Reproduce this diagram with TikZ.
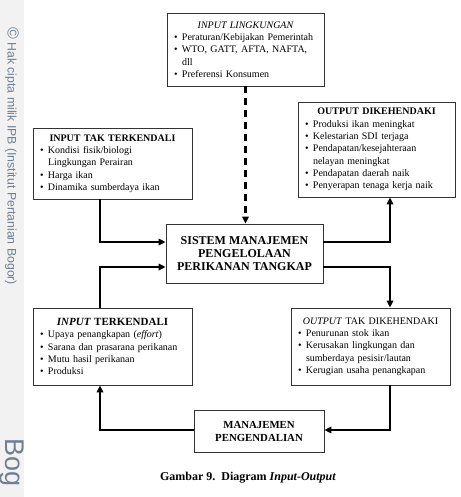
\documentclass[tikz,border=0pt]{standalone}
\usepackage{fontspec}
\setmainfont{Liberation Serif}
\newfontfamily\wmfont{Liberation Sans}
\usetikzlibrary{arrows.meta}
\newcommand\bitem[1]{\par\hangindent=8pt\hangafter=1\noindent\hbox to 8pt{\textbullet\hfil}#1}
\definecolor{wmcol}{RGB}{112,128,146}
\hyphenpenalty=10000
\begin{document}
\begin{tikzpicture}[x=1pt,y=-1pt,
  box/.style={draw=black!80, line width=0.8pt, inner xsep=7pt, inner ysep=0pt, align=left,
    font=\fontsize{10}{12.3}\selectfont},
  cbox/.style={draw=black!80, line width=0.8pt, inner sep=0pt, align=center},
  conn/.style={line width=2.2pt, -{Triangle[length=7pt,width=6.5pt]}},
  dconn/.style={line width=2.2pt, dash pattern=on 7pt off 5pt, -{Triangle[length=7pt,width=6.5pt]}},
  wm/.style={text=wmcol, font=\wmfont\fontsize{12.3}{13}\selectfont, inner sep=0pt}]
\useasboundingbox (0,0) rectangle (460,497);
\fill[gray!10] (0,0) rectangle (24,497);
\node[wm, rotate=-90, anchor=west] (wm1) at (12,27) {{\fontsize{16}{16}\selectfont ©}\ Hak cipta milik IPB (Institut Pertanian Bogor)};
\node[wm, rotate=-90, anchor=west, font=\wmfont\fontsize{27}{27}\selectfont] (wm2) at (12,438) {Bog};

\node[box, minimum width=157pt, minimum height=73pt, text width=143pt] (L) at (245.5,49.5)
  {{\centering\itshape INPUT LINGKUNGAN\par}
   \bitem{Peraturan/Kebijakan Pemerintah}
   \bitem{WTO, GATT, AFTA, NAFTA,\newline dll}
   \bitem{Preferensi Konsumen}};

\node[box, minimum width=157pt, minimum height=95pt, text width=143pt] (OD) at (376.5,149.5)
  {{\centering\bfseries OUTPUT DIKEHENDAKI\par}
   \bitem{Produksi ikan meningkat}
   \bitem{Kelestarian SDI terjaga}
   \bitem{Pendapatan/kesejahteraan\newline nelayan meningkat}
   \bitem{Pendapatan daerah naik}
   \bitem{Penyerapan tenaga kerja naik}};

\node[box, minimum width=159pt, minimum height=71pt, text width=145pt] (ITT) at (112.5,163.5)
  {{\centering\bfseries INPUT TAK TERKENDALI\par}
   \bitem{Kondisi fisik/biologi\newline Lingkungan Perairan}
   \bitem{Harga ikan}
   \bitem{Dinamika sumberdaya ikan}};

\node[cbox, minimum width=157pt, minimum height=59pt, font=\bfseries\fontsize{12}{13}\selectfont] (S) at (244.5,253.5)
  {SISTEM MANAJEMEN\\PENGELOLAAN\\PERIKANAN TANGKAP};

\node[box, minimum width=159pt, minimum height=77pt, text width=145pt] (IT) at (112.5,346.5)
  {{\centering\bfseries\fontsize{11}{13.5}\selectfont\textit{INPUT} TERKENDALI\par}
   \bitem{Upaya penangkapan (\textit{effort})}
   \bitem{Sarana dan prasarana perikanan}
   \bitem{Mutu hasil perikanan}
   \bitem{Produksi}};

\node[box, minimum width=159pt, minimum height=77pt, text width=145pt] (OTD) at (370.5,346.5)
  {{\centering\textit{OUTPUT} TAK DIKEHENDAKI\par}
   \bitem{Penurunan stok ikan}
   \bitem{Kerusakan lingkungan dan\newline sumberdaya pesisir/lautan}
   \bitem{Kerugian usaha penangkapan}};

\node[cbox, minimum width=130pt, minimum height=42pt, font=\bfseries\fontsize{10.8}{13}\selectfont] (M) at (259,431)
  {MANAJEMEN\\PENGENDALIAN};

\node[inner sep=0pt, font=\bfseries\fontsize{12}{13}\selectfont] (cap) at (248,478)
  {Gambar 9.\ \ Diagram \textit{Input-Output}};

\coordinate (lc) at (100,0);
\coordinate (rc) at (390,0);
\draw[dconn] (L.south) -- (L.south |- S.north);
\draw[conn] (lc |- ITT.south) |- ([yshift=11.5pt]S.west);
\draw[conn] (lc |- IT.north) |- ([yshift=-13.5pt]S.west);
\draw[conn] ([yshift=11.5pt]S.east) -| (rc |- OD.south);
\draw[conn] ([yshift=-13.5pt]S.east) -| (rc |- OTD.north);
\draw[conn] (rc |- OTD.south) |- ([yshift=1pt]M.east);
\draw[conn] ([yshift=1pt]M.west) -| (lc |- IT.south);
\end{tikzpicture}
\end{document}
